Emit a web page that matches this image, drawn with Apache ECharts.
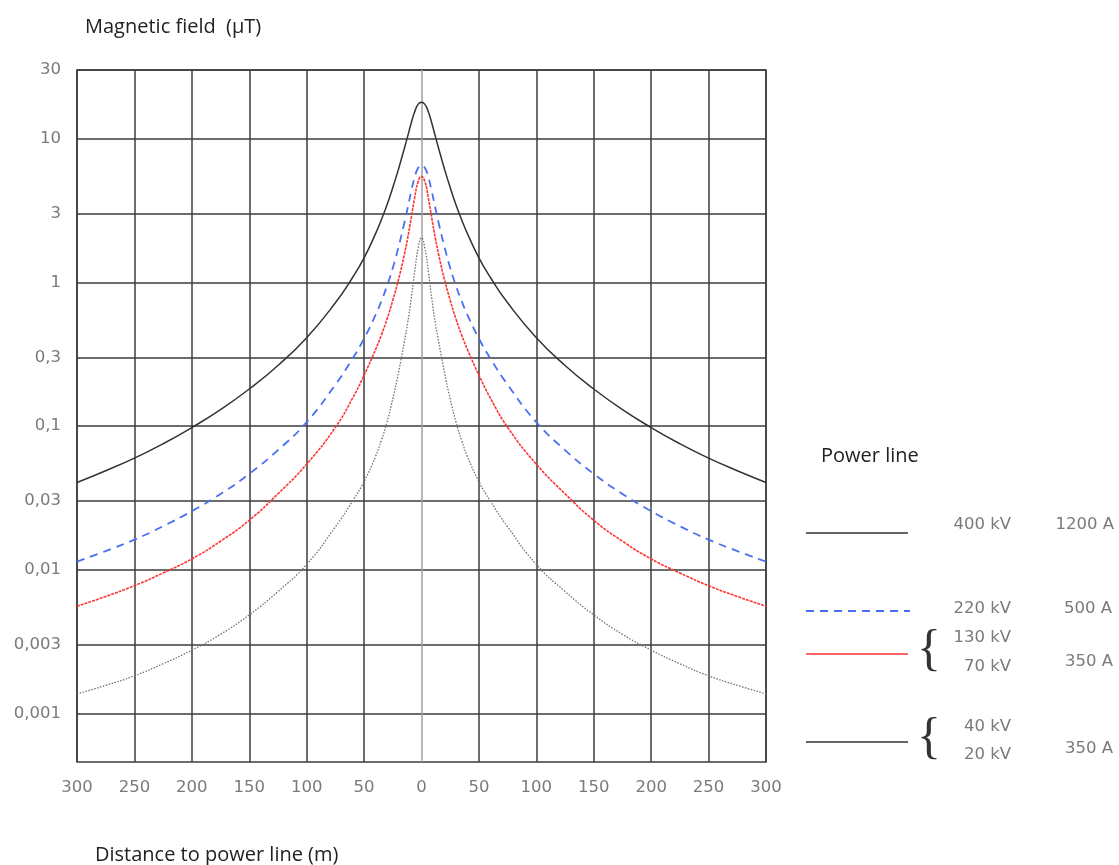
<!DOCTYPE html>
<html>
<head>
<meta charset="utf-8">
<script src="https://cdn.jsdelivr.net/npm/echarts@6/dist/echarts.min.js"></script>
<style>html,body{margin:0;padding:0;background:#fff;}#c{width:1119px;height:865px;}</style>
</head>
<body>
<div id="c"></div>
<script>
// distances from the power line (m), one side; the chart is symmetric
var distances = [0, 3, 6, 9, 12, 15, 20, 25, 30, 35, 40, 50, 60, 75, 100, 125, 150, 175, 200, 225, 250, 275, 300];
// magnetic field (µT)
var field400kV = [17.9, 17.3, 15.3, 12.8, 10.4, 8.5, 6.15, 4.56, 3.47, 2.72, 2.18, 1.48, 1.08, 0.72, 0.412, 0.264, 0.181, 0.130, 0.0976, 0.0753, 0.0598, 0.0489, 0.0405];
var field220kV = [6.5, 6.24, 5.36, 4.27, 3.30, 2.58, 1.76, 1.26, 0.946, 0.739, 0.593, 0.406, 0.295, 0.194, 0.1065, 0.068, 0.0465, 0.0337, 0.0256, 0.0201, 0.0162, 0.0135, 0.0114];
var field130kV = [5.45, 5.01, 3.85, 2.79, 2.04, 1.55, 1.047, 0.75, 0.556, 0.429, 0.341, 0.226, 0.1565, 0.098, 0.0543, 0.0338, 0.0221, 0.0158, 0.0119, 0.0095, 0.00775, 0.00652, 0.00558];
var field40kV = [2.04, 1.72, 1.175, 0.766, 0.524, 0.384, 0.2366, 0.1545, 0.107, 0.0793, 0.0615, 0.0411, 0.0301, 0.0199, 0.0109, 0.00706, 0.00486, 0.00356, 0.00276, 0.00222, 0.00183, 0.00157, 0.00137];
// y tick values and labels
var yTickValues = [30, 10, 3, 1, 0.3, 0.1, 0.03, 0.01, 0.003, 0.001];
var yTickLabels = ['30', '10', '3', '1', '0,3', '0,1', '0,03', '0,01', '0,003', '0,001'];
var yMinValue = 0.00046, yMaxValue = 30;
var xMin = -300, xMax = 300, xStep = 50;

function mirror(vals) {
  var out = [];
  for (var i = distances.length - 1; i > 0; i--) out.push([-distances[i], Math.log10(vals[i])]);
  for (var j = 0; j < distances.length; j++) out.push([distances[j], Math.log10(vals[j])]);
  return out;
}
var yTickLogs = yTickValues.map(function (v) { return Math.log10(v); });

var xSplitColors = [];
for (var k = xMin; k <= xMax; k += xStep) xSplitColors.push(k === 0 ? '#a0a0a0' : '#3c3c3c');

var labelFont = 'DejaVu Sans';
var labelColor = '#7a7a7a';
var axisFontSize = 16.5;
var legendFont = '16.5px "DejaVu Sans"';
var titleFontCss = '20px "Open Sans"';

var chart = echarts.init(document.getElementById('c'), null, { renderer: 'canvas' });
var option = {
  animation: false,
  backgroundColor: '#ffffff',
  grid: { left: 77, right: 353, top: 70, bottom: 103, show: true, borderColor: '#3c3c3c', borderWidth: 1.5, backgroundColor: 'transparent' },
  xAxis: {
    type: 'value', min: xMin, max: xMax, interval: xStep,
    axisLine: { show: false }, axisTick: { show: false },
    axisLabel: { margin: 17, fontFamily: labelFont, fontSize: axisFontSize, color: labelColor, formatter: function (v) { return String(Math.abs(v)); } },
    splitLine: { show: true, lineStyle: { color: xSplitColors, width: 1.5 } }
  },
  yAxis: {
    type: 'value', min: Math.log10(yMinValue), max: Math.log10(yMaxValue),
    axisLine: { show: false },
    axisTick: { show: false, customValues: yTickLogs },
    axisLabel: {
      customValues: yTickLogs, margin: 16, fontFamily: labelFont, fontSize: axisFontSize, color: labelColor,
      formatter: function (v) {
        for (var i = 0; i < yTickLogs.length; i++) if (Math.abs(yTickLogs[i] - v) < 1e-6) return yTickLabels[i];
        return '';
      }
    },
    splitLine: { show: true, lineStyle: { color: '#3c3c3c', width: 1.5 } }
  },
  series: [
    { name: '20-40 kV', type: 'line', data: mirror(field40kV), showSymbol: false, smooth: 0.5, lineStyle: { color: '#707070', width: 1.3, type: [1.5, 1.5] }, z: 3 },
    { name: '70-130 kV', type: 'line', data: mirror(field130kV), showSymbol: false, smooth: 0.5, lineStyle: { color: '#ff3434', width: 1.6, type: [3, 1] }, z: 4 },
    { name: '220 kV', type: 'line', data: mirror(field220kV), showSymbol: false, smooth: 0.5, lineStyle: { color: '#4a70f2', width: 1.8, type: [8, 6] }, z: 5 },
    { name: '400 kV', type: 'line', data: mirror(field400kV), showSymbol: false, smooth: 0.5, lineStyle: { color: '#333333', width: 1.5 }, z: 6 }
  ],
  graphic: [
    { type: 'text', x: 85, y: 27, style: { text: 'Magnetic field  (µT)', font: titleFontCss, fill: '#222', verticalAlign: 'middle' } },
    { type: 'text', x: 95, y: 855, style: { text: 'Distance to power line (m)', font: titleFontCss, fill: '#222', verticalAlign: 'middle' } },
    { type: 'text', x: 821, y: 456, style: { text: 'Power line', font: titleFontCss, fill: '#222', verticalAlign: 'middle' } },

    { type: 'line', shape: { x1: 806, y1: 533, x2: 908, y2: 533 }, style: { stroke: '#333', lineWidth: 1.5 } },
    { type: 'text', x: 1011, y: 525, style: { text: '400 kV', font: legendFont, fill: labelColor, align: 'right', verticalAlign: 'middle' } },
    { type: 'text', x: 1114, y: 525, style: { text: '1200 A', font: legendFont, fill: labelColor, align: 'right', verticalAlign: 'middle' } },

    { type: 'line', shape: { x1: 806, y1: 611, x2: 910, y2: 611 }, style: { stroke: '#4a70f2', lineWidth: 1.8, lineDash: [8, 6] } },
    { type: 'text', x: 1011, y: 609, style: { text: '220 kV', font: legendFont, fill: labelColor, align: 'right', verticalAlign: 'middle' } },
    { type: 'text', x: 1112, y: 609, style: { text: '500 A', font: legendFont, fill: labelColor, align: 'right', verticalAlign: 'middle' } },

    { type: 'line', shape: { x1: 806, y1: 654, x2: 908, y2: 654 }, style: { stroke: '#ff3434', lineWidth: 1.5 } },
    { type: 'text', x: 929, y: 651, style: { text: '{', font: '50px "Liberation Serif"', fill: '#333', align: 'center', verticalAlign: 'middle' } },
    { type: 'text', x: 1011, y: 638, style: { text: '130 kV', font: legendFont, fill: labelColor, align: 'right', verticalAlign: 'middle' } },
    { type: 'text', x: 1011, y: 667, style: { text: '70 kV', font: legendFont, fill: labelColor, align: 'right', verticalAlign: 'middle' } },
    { type: 'text', x: 1113, y: 662, style: { text: '350 A', font: legendFont, fill: labelColor, align: 'right', verticalAlign: 'middle' } },

    { type: 'line', shape: { x1: 806, y1: 742, x2: 908, y2: 742 }, style: { stroke: '#333', lineWidth: 1.5 } },
    { type: 'text', x: 929, y: 739, style: { text: '{', font: '50px "Liberation Serif"', fill: '#333', align: 'center', verticalAlign: 'middle' } },
    { type: 'text', x: 1011, y: 727, style: { text: '40 kV', font: legendFont, fill: labelColor, align: 'right', verticalAlign: 'middle' } },
    { type: 'text', x: 1011, y: 755, style: { text: '20 kV', font: legendFont, fill: labelColor, align: 'right', verticalAlign: 'middle' } },
    { type: 'text', x: 1113, y: 749, style: { text: '350 A', font: legendFont, fill: labelColor, align: 'right', verticalAlign: 'middle' } }
  ]
};
chart.setOption(option);
</script>
</body>
</html>
